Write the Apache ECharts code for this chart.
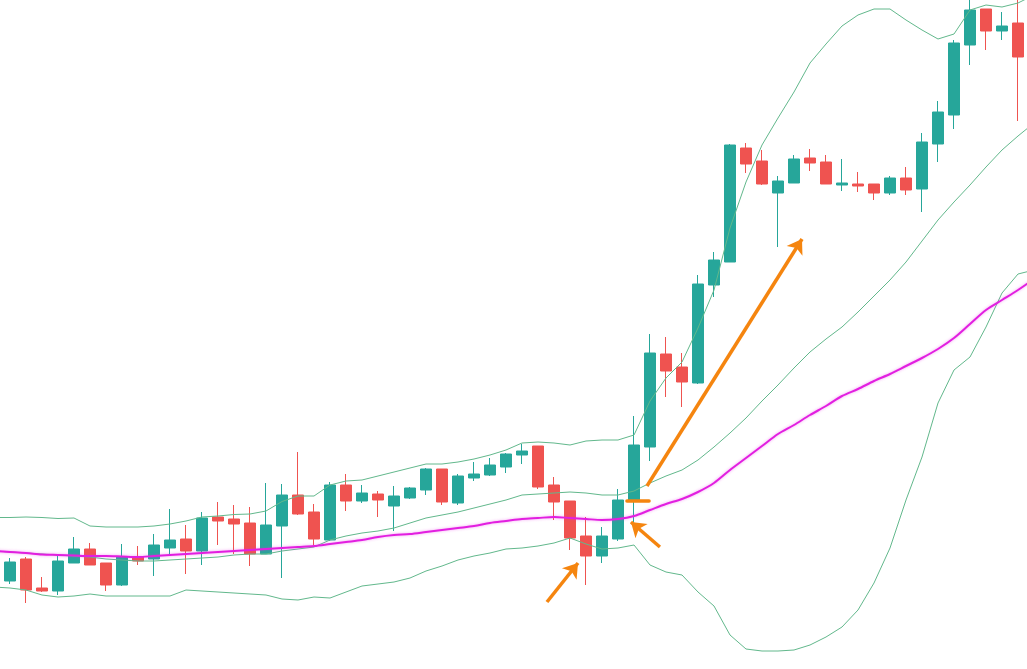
<!DOCTYPE html>
<html>
<head>
<meta charset="utf-8">
<script src="https://cdn.jsdelivr.net/npm/echarts@6/dist/echarts.min.js"></script>
<style>
html,body{margin:0;padding:0;background:#fff;overflow:hidden;width:1027px;height:669px;}
#chart{position:absolute;left:-14px;top:0;width:1056px;height:669px;}
</style>
</head>
<body>
<div id="chart"></div>
<script>
// 66 slots: one padding slot on each side (lines only), 64 candles in between
const categories = Array.from({length: 66}, (_, k) => 'P' + k);

// [open, close, low, high]; '-' = no candle in padding slots
const candles = [
  '-',
  [88,107,85,111],[110,79,66,112],[81,78,77,92],[78,108,74,115],[106,120,106,132],
  [120,104,104,126],[106,84,78,106],[84,112,83,125],[112,108,104,123],[110,124,93,135],
  [121,129,114,160],[130,118,95,144],[118,151,104,157],[152,148,124,167],[150,145,115,164],
  [146,115,103,162],[115,144,115,186],[143,174,91,185],[174,155,154,217],[157,130,124,165],
  [129,184,128,187],[184,168,158,195],[168,176,166,184],[175,169,152,178],[163,173,138,183],
  [171,181,170,182],[179,200,174,201],[200,167,164,200],[166,193,164,195],[191,195,188,207],
  [194,204,193,211],[202,215,196,216],[214,218,205,225],[223,182,180,223],[184,167,149,192],
  [168,131,119,168],[133,113,84,152],[113,133,106,142],[130,169,128,180],[169,224,147,253],
  [222,316,208,335],[315,298,272,332],[302,287,262,316],[286,385,285,394],[384,409,372,417],
  [407,524,407,525],[521,505,496,526],[508,485,484,519],[476,488,422,493],[486,510,486,514],
  [511,506,498,520],[507,485,485,514],[484,486,478,510],[485,483,477,497],[485,476,469,485],
  [476,491,474,493],[491,479,474,502],[480,527,457,536],[525,557,507,568],[554,626,540,629],
  [624,659,604,672],[660,638,619,660],[638,643,629,657],[646,612,548,675],
  '-'
];

const upperBand = [151.5,151.5,152,151.5,150.5,151,143,142,142,142,143,145,148,152,153,154.5,155,158,167.5,173,173,
  184,188,189,193,197,201,205,205,207,210,214,219,226,227,226,224,228,229,229,234,
  268,291,307,341,379,441,487,524,551,577,606,625,643,654,660,660,649,639,630,635,659,664,662,666,674];

const middleBand = [118,117,116,115,114,113,112,110,109,108,108,109,110,111,112,114,115,115,118,120,122,
  129,133,136,138,141,146,151,154,157,161,165,169,174,175,176,177,176,174,174,178,
  186,193,199,209,222,236,251,268,284,301,317,330,342,357,373,389,407,428,449,467,484,502,519,533,546];

const lowerBand = [82,81,79,74,72,73,75,73,73,73,73,73,79,78,77,76,75,74,70,69,72,
  71,77,83,85,87,91,98,103,109,113,116,120,121,123,126,131,125,120,121,124,
  104,97,94,77,63,34,20,18,18,19,24,32,42,59,86,121,169,212,266,299,312,342,376,395,399];

const movingAvg = [118,117,116,114.5,114,113.5,113,113,112.5,112,113,114,115,116,117,118,119,120,121,122,123,
  125,127,129,132,134,135,137,139,141,143,146,148,150,151,152,151,150,149,150,153,
  159,165,170,177,186,199,211,223,235,244,254,263,273,280,288,295,303,311,320,331,345,359,369,379,390];

// annotation arrows: [[slot, value], [slot, value]]
const arrows = [
  [[34.56, 67], [36.5, 106]],
  [[41.62, 122], [39.81, 147]],
  [[40.81, 183], [50.5, 430]]
];
const markBar = [[39.56, 168.5], [40.94, 168.5]];

const chart = echarts.init(document.getElementById('chart'), null, {renderer: 'canvas'});
const bandStyle = {color: '#62b88c', width: 1};
chart.setOption({
  animation: false,
  backgroundColor: '#ffffff',
  grid: {left: 0, right: 0, top: 0, bottom: 0},
  xAxis: [
    {type: 'category', data: categories, boundaryGap: true, show: false},
    {type: 'value', min: -0.5, max: 65.5, show: false}
  ],
  yAxis: {type: 'value', min: 0, max: 669, show: false, splitLine: {show: false}},
  series: [
    {
      type: 'candlestick', data: candles, barWidth: 11, z: 2,
      itemStyle: {color: '#26a69a', color0: '#ef5350', borderColor: '#26a69a', borderColor0: '#ef5350', borderWidth: 1}
    },
    {type: 'line', data: upperBand, symbol: 'none', lineStyle: bandStyle, z: 3},
    {type: 'line', data: middleBand, symbol: 'none', lineStyle: bandStyle, z: 3},
    {type: 'line', data: lowerBand, symbol: 'none', lineStyle: bandStyle, z: 3},
    {type: 'line', data: movingAvg, symbol: 'none', smooth: 0.3, z: 4,
      lineStyle: {color: '#e21fe0', width: 2, shadowColor: 'rgba(230,40,230,0.45)', shadowBlur: 3}},
    {
      type: 'lines', coordinateSystem: 'cartesian2d', xAxisIndex: 1, yAxisIndex: 0, z: 5,
      symbol: ['none', 'arrow'], symbolSize: [11, 14],
      lineStyle: {color: '#f5850f', width: 3.5, opacity: 1, curveness: 0},
      data: arrows.map(a => ({coords: a}))
    },
    {
      type: 'lines', coordinateSystem: 'cartesian2d', xAxisIndex: 1, yAxisIndex: 0, z: 5,
      symbol: ['none', 'none'],
      lineStyle: {color: '#f5850f', width: 3.5, opacity: 1, cap: 'round'},
      data: [{coords: markBar}]
    }
  ]
});
</script>
</body>
</html>
